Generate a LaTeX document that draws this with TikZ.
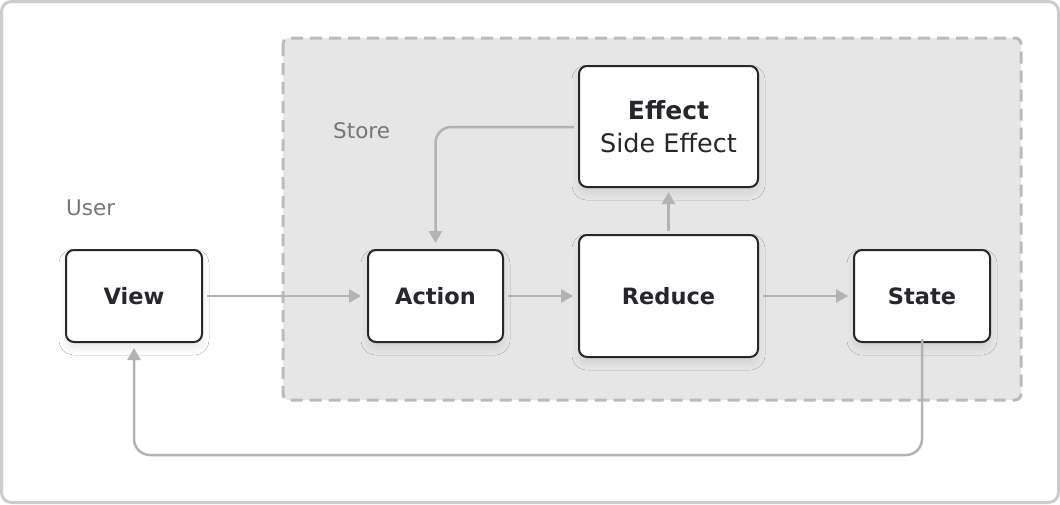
\documentclass[tikz,border=0pt]{standalone}
\usepackage{fontspec}
\setmainfont{DejaVu Sans}
\usetikzlibrary{arrows.meta,shadows.blur,positioning}
\definecolor{frame}{HTML}{CCCCCC}
\definecolor{storefill}{HTML}{E6E6E6}
\definecolor{storeline}{HTML}{BBBBBB}
\definecolor{conn}{HTML}{B3B3B3}
\definecolor{ink}{HTML}{26262C}
\definecolor{lbl}{HTML}{777777}
\tikzset{
  box/.style={draw=ink, line width=2pt, fill=white, rounded corners=8pt,
    blur shadow={shadow xshift=0pt, shadow yshift=-6pt, shadow blur radius=7pt, shadow opacity=9, shadow blur steps=10},
    text=ink, font=\fontsize{22.5}{27}\selectfont\bfseries, align=center, inner sep=0pt},
  conn/.style={draw=conn, line width=2.5pt, -{Triangle[length=12pt,width=13pt]}, rounded corners=16pt},
  lab/.style={text=lbl, font=\fontsize{21.5}{25}\selectfont, anchor=west, inner sep=0pt}
}
\begin{document}
\begin{tikzpicture}[x=1pt,y=-1pt]
\useasboundingbox (0,0) rectangle (1060,504);
\draw[frame, line width=3pt, rounded corners=10pt, fill=white] (1.5,1.5) rectangle (1058.5,502.5);
\draw[storeline, fill=storefill, line width=3pt, dash pattern=on 12pt off 7pt, rounded corners=6pt] (283,38) rectangle (1021,400);
\node[lab] (storelbl) at (333,131) {Store};
\node[lab] (userlbl) at (66,208) {User};
\node[box, minimum width=136pt, minimum height=92pt] (view) at (134,296) {View};
\node[box, minimum width=135pt, minimum height=92pt] (action) at (435.5,296) {Action};
\node[box, minimum width=179pt, minimum height=122pt] (reduce) at (668.5,296) {Reduce};
\node[box, minimum width=179pt, minimum height=121pt] (effect) at (668.5,126.5) {\fontsize{25}{29}\selectfont Effect\\[6pt]\mdseries\fontsize{25.5}{29}\selectfont Side Effect};
\node[box, minimum width=136pt, minimum height=92pt] (state) at (922,296) {State};
\draw[conn, shorten <=4pt, shorten >=6pt] (view.east) -- (action.west);
\draw[conn, shorten <=4pt, shorten >=5pt] (action.east) -- (reduce.west);
\draw[conn, shorten <=4pt, shorten >=5pt] (reduce.east) -- (state.west);
\draw[conn, shorten <=3pt, shorten >=4pt] (reduce.north) -- (effect.south);
\coordinate (effout) at ([xshift=-4pt]effect.west |- 0,127);
\draw[conn, shorten >=6pt] (effout) -| (action.north);
\coordinate (stout) at ([yshift=4pt]state.south);
\coordinate (loopy) at (0,455);
\draw[conn, shorten >=5pt] (stout) -- (stout |- loopy) -| (view.south);
\end{tikzpicture}
\end{document}
